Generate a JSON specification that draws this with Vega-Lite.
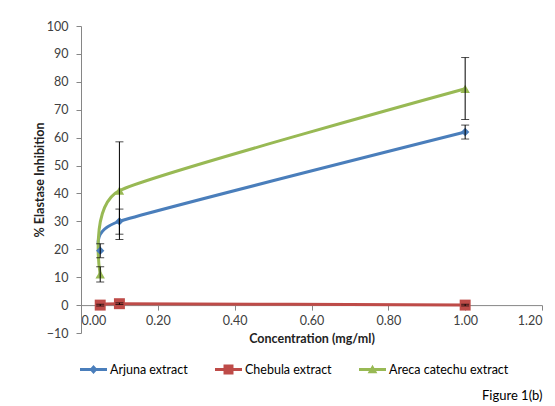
{
  "$schema": "https://vega.github.io/schema/vega-lite/v6.json",
  "width": 461,
  "height": 307,
  "autosize": {"type": "none"},
  "padding": {"left": 81, "top": 26, "right": 13, "bottom": 73},
  "background": "white",
  "title": {"text": "Figure 1(b)", "orient": "bottom", "anchor": "end", "fontSize": 13, "fontWeight": "normal", "font": "Lato", "color": "#000", "offset": 14},
  "config": {
    "view": {"stroke": null},
    "font": "Lato",
    "axis": {"grid": false, "domainColor": "#868686", "tickColor": "#868686", "labelColor": "#404040", "labelFontSize": 12.5, "labelFont": "Lato", "titleFont": "Lato", "titleFontSize": 12.5, "titleFontWeight": "bold", "titleColor": "#222"},
    "legend": {"orient": "none", "legendX": -1, "legendY": 330, "direction": "horizontal", "title": null, "symbolSize": 729, "symbolOpacity": 1, "labelFontSize": 12.5, "labelColor": "#000", "labelFont": "Lato", "columnPadding": 27, "labelOffset": 3, "symbolStrokeWidth": 0, "padding": 0}
  },
  "data": {"values": [
    {"series": "Arjuna extract", "x": 0.05, "y": 19.5, "lo": 17, "hi": 22},
    {"series": "Arjuna extract", "x": 0.1, "y": 30, "lo": 25.4, "hi": 34.4},
    {"series": "Arjuna extract", "x": 1.0, "y": 62, "lo": 59.5, "hi": 64.5},
    {"series": "Chebula extract", "x": 0.05, "y": 0, "lo": -0.3, "hi": 0.3},
    {"series": "Chebula extract", "x": 0.1, "y": 0.5, "lo": 0.2, "hi": 0.8},
    {"series": "Chebula extract", "x": 1.0, "y": 0, "lo": -0.3, "hi": 0.3},
    {"series": "Areca catechu extract", "x": 0.05, "y": 11, "lo": 8.3, "hi": 13.7},
    {"series": "Areca catechu extract", "x": 0.1, "y": 41, "lo": 23.5, "hi": 58.5},
    {"series": "Areca catechu extract", "x": 1.0, "y": 77.5, "lo": 66.5, "hi": 88.7}
  ]},
  "encoding": {
    "x": {"field": "x", "type": "quantitative", "scale": {"domain": [0, 1.2], "nice": false},
      "axis": {"values": [0, 0.2, 0.4, 0.6, 0.8, 1.0, 1.2], "format": ".2f", "offset": -27.9, "tickSize": 5, "labelPadding": 4, "title": "Concentration (mg/ml)", "titlePadding": 6}},
    "y": {"field": "y", "type": "quantitative", "scale": {"domain": [-10, 100], "nice": false},
      "axis": {"values": [-10, 0, 10, 20, 30, 40, 50, 60, 70, 80, 90, 100], "tickSize": 5, "labelPadding": 8, "title": "% Elastase  Inhibition", "titlePadding": 0}}
  },
  "layer": [
    {
      "mark": {"type": "point", "filled": true, "opacity": 0, "strokeWidth": 0},
      "encoding": {
        "color": {"field": "series", "type": "nominal", "scale": {"domain": ["Arjuna extract", "Chebula extract", "Areca catechu extract"], "range": ["#4A7EBB", "#BE4B48", "#98B954"]}},
        "shape": {"field": "series", "type": "nominal", "scale": {"domain": ["Arjuna extract", "Chebula extract", "Areca catechu extract"], "range": ["M-1,-0.11H1V0.11H-1Z M0,-0.33L0.3,0L0,0.33L-0.3,0Z", "M-1,-0.11H1V0.11H-1Z M-0.37,-0.37H0.37V0.37H-0.37Z", "M-1,-0.11H1V0.11H-1Z M0,-0.36L0.36,0.28H-0.36Z"]}}
      }
    },
    {
      "mark": {"type": "line", "interpolate": "cardinal", "tension": 0.5, "strokeWidth": 3},
      "encoding": {"color": {"field": "series", "type": "nominal"}}
    },
    {
      "transform": [{"filter": "datum.series === 'Arjuna extract'"}],
      "mark": {"type": "point", "shape": "diamond", "filled": true, "opacity": 1, "strokeWidth": 0, "color": "#4A7EBB", "size": 70}
    },
    {
      "transform": [{"filter": "datum.series === 'Chebula extract'"}],
      "mark": {"type": "point", "shape": "square", "filled": true, "opacity": 1, "strokeWidth": 0, "color": "#BE4B48", "size": 120}
    },
    {
      "transform": [{"filter": "datum.series === 'Areca catechu extract'"}],
      "mark": {"type": "point", "shape": "triangle-up", "filled": true, "opacity": 1, "strokeWidth": 0, "color": "#98B954", "size": 90}
    },
    {
      "mark": {"type": "rule", "color": "black", "strokeWidth": 1},
      "encoding": {"y": {"field": "lo", "type": "quantitative"}, "y2": {"field": "hi"}}
    },
    {
      "mark": {"type": "tick", "orient": "horizontal", "color": "black", "thickness": 1, "size": 8},
      "encoding": {"y": {"field": "lo", "type": "quantitative"}}
    },
    {
      "mark": {"type": "tick", "orient": "horizontal", "color": "black", "thickness": 1, "size": 8},
      "encoding": {"y": {"field": "hi", "type": "quantitative"}}
    }
  ]
}
